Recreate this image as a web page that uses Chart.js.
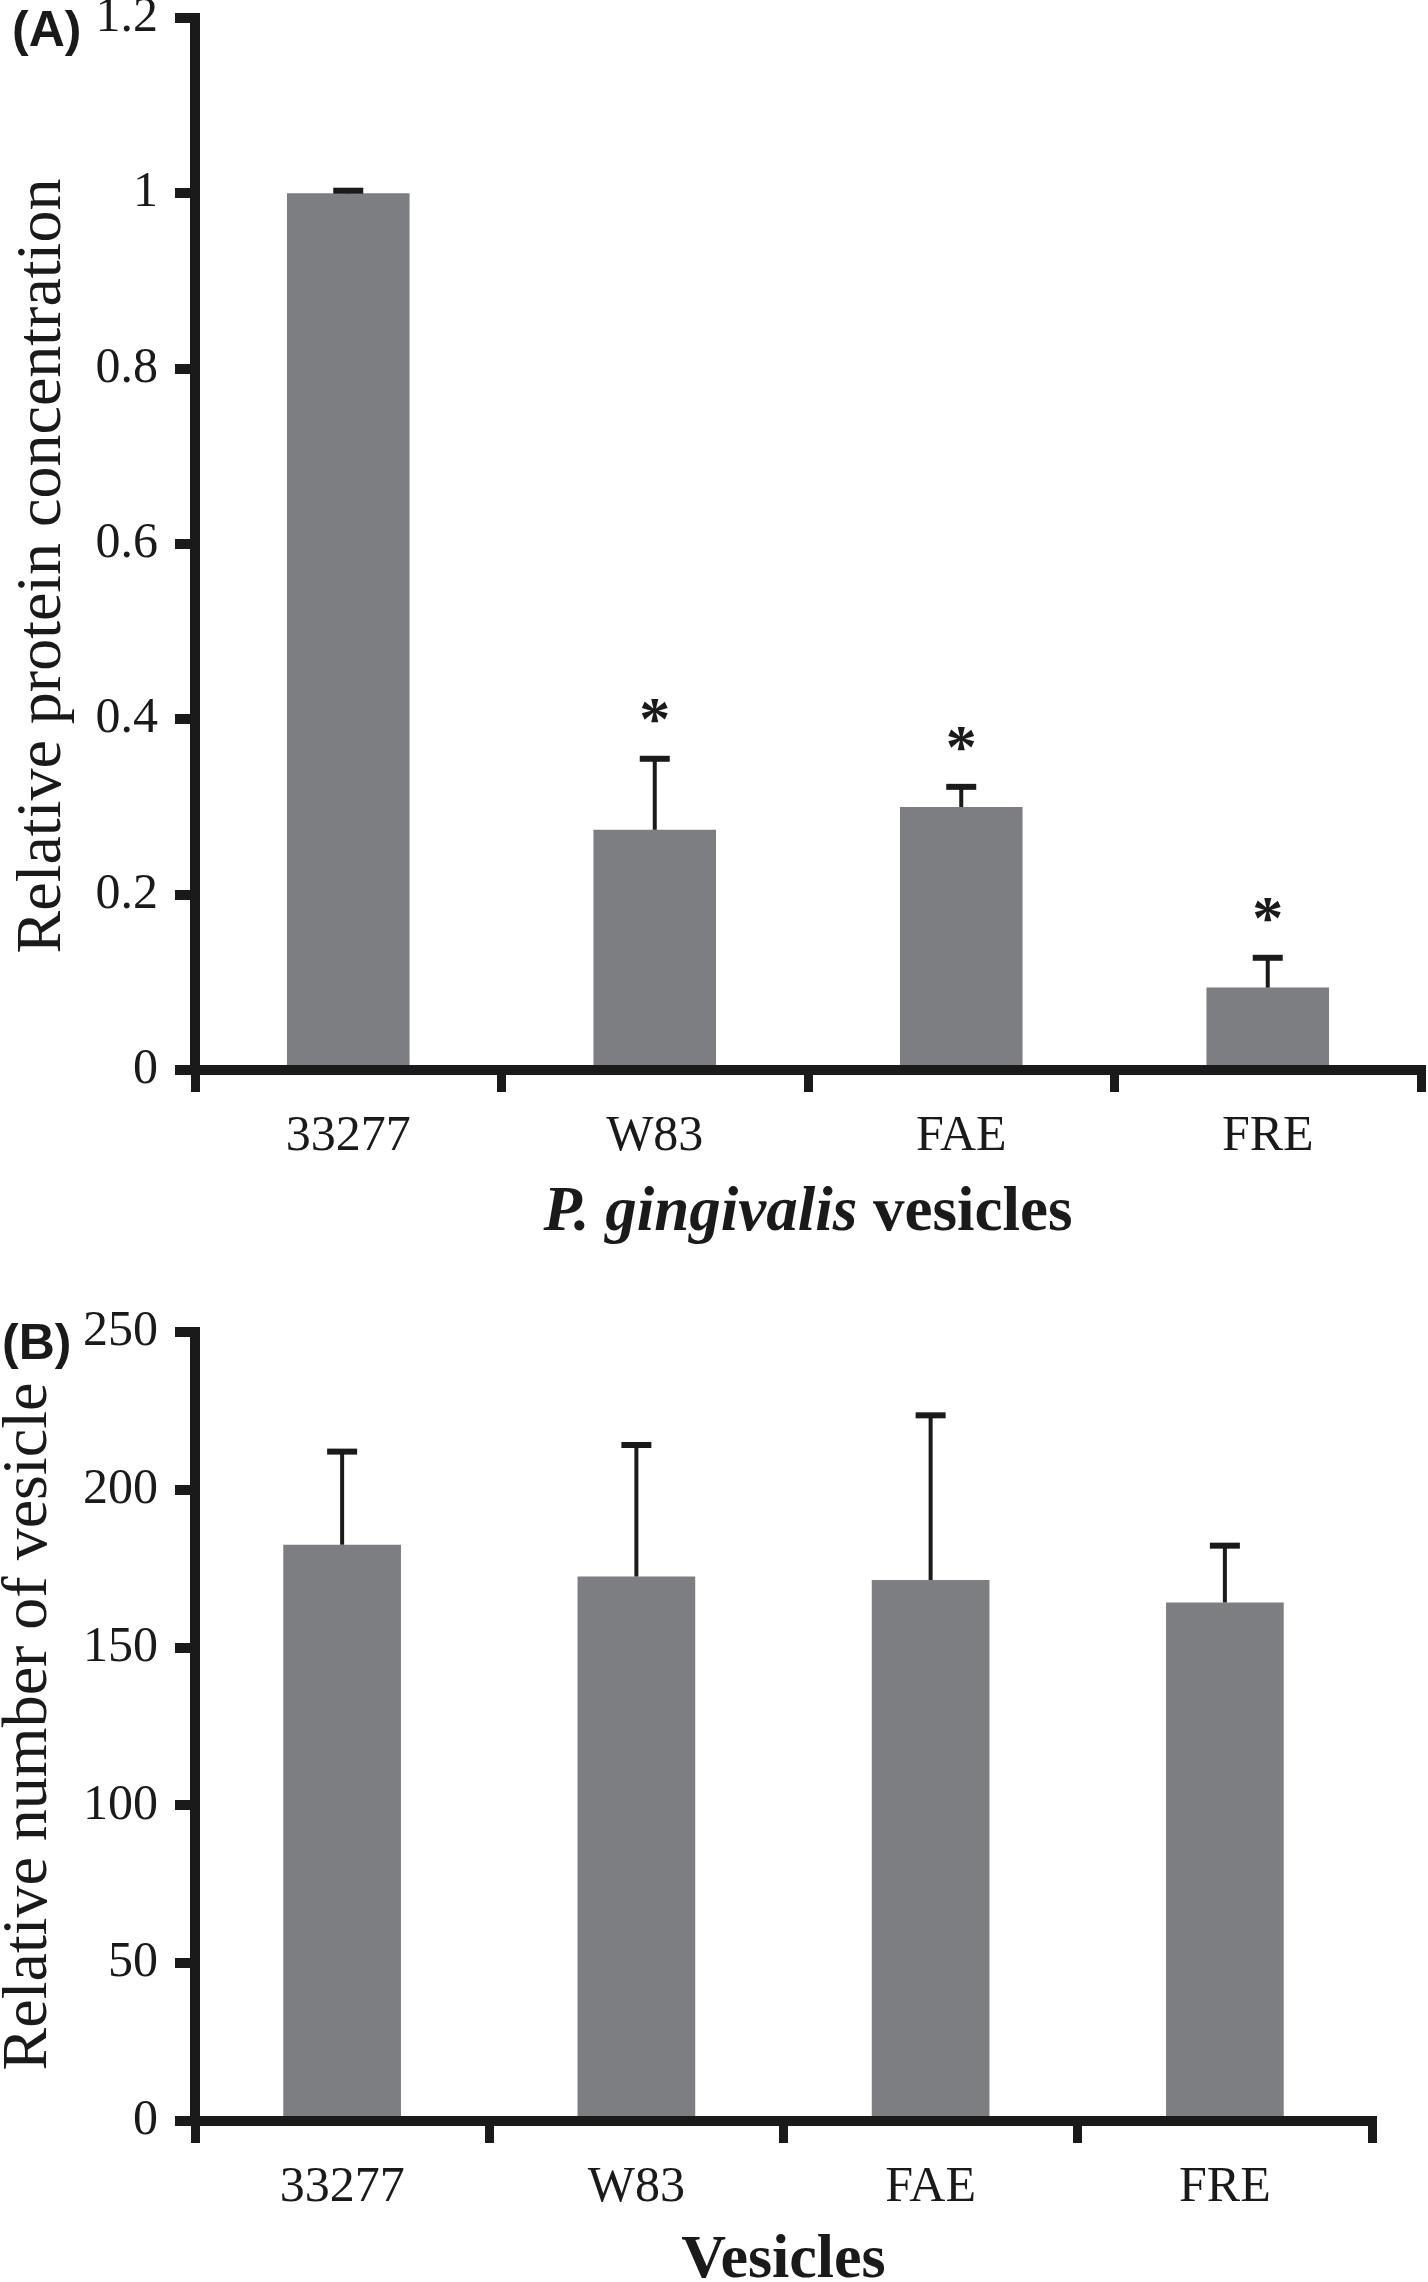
<!DOCTYPE html>
<html>
<head>
<meta charset="utf-8">
<script src="https://cdn.jsdelivr.net/npm/chart.js@4.4.1/dist/chart.umd.min.js"></script>
<style>
  html, body { margin: 0; padding: 0; background: #fff; }
  canvas { position: absolute; left: 0; }
  #chartA { top: 0; }
  #chartB { top: 1290px; }
</style>
</head>
<body>
<canvas id="chartA" width="1428" height="1280"></canvas>
<canvas id="chartB" width="1428" height="992"></canvas>
<script>
// data
const strains = ['33277', 'W83', 'FAE', 'FRE'];

const proteinValues = [1.0, 0.274, 0.300, 0.094];
const proteinErrors = [0.003, 0.081, 0.023, 0.034];
const proteinMarks = ['', '*', '*', '*'];
const proteinTicks = [0, 0.2, 0.4, 0.6, 0.8, 1, 1.2];

const vesicleValues = [182.6, 172.5, 171.4, 164.3];
const vesicleErrors = [29.5, 41.7, 52.2, 18.0];
const vesicleMarks = ['', '', '', ''];
const vesicleTicks = [0, 50, 100, 150, 200, 250];

const ink = '#1a1a1a';
const barGray = '#7d7e82';

Chart.defaults.font.family = "'Liberation Serif', 'Times New Roman', serif";
Chart.defaults.color = ink;

// error bars + significance stars
const errorBars = {
  id: 'errorBars',
  afterDatasetsDraw(chart, args, opts) {
    const ctx = chart.ctx;
    const yScale = chart.scales.y;
    const bars = chart.getDatasetMeta(0).data;
    ctx.save();
    ctx.strokeStyle = ink;
    ctx.fillStyle = ink;
    bars.forEach((bar, i) => {
      const top = yScale.getPixelForValue(opts.values[i] + opts.errors[i]);
      ctx.lineWidth = 4;
      ctx.beginPath();
      ctx.moveTo(bar.x, bar.y);
      ctx.lineTo(bar.x, top);
      ctx.stroke();
      ctx.lineWidth = 6;
      ctx.beginPath();
      ctx.moveTo(bar.x - 15, top);
      ctx.lineTo(bar.x + 15, top);
      ctx.stroke();
      if (opts.marks[i]) {
        ctx.font = "bold 62px 'Liberation Serif'";
        ctx.textAlign = 'center';
        ctx.textBaseline = 'alphabetic';
        ctx.fillText(opts.marks[i], bar.x, top - 52 + 32);
      }
    });
    ctx.restore();
  }
};

// panel letter and axis titles (x title mixes italic and upright)
const axisTitles = {
  id: 'axisTitles',
  afterDraw(chart, args, opts) {
    const ctx = chart.ctx;
    const area = chart.chartArea;
    ctx.save();
    ctx.fillStyle = ink;

    ctx.font = "bold 50px 'Liberation Sans'";
    ctx.textAlign = 'left';
    ctx.textBaseline = 'middle';
    ctx.fillText(opts.letter, opts.letterX, opts.letterY);

    ctx.save();
    ctx.translate(opts.yTitleX, (area.top + area.bottom) / 2 + opts.yTitleShift);
    ctx.rotate(-Math.PI / 2);
    ctx.font = "64px 'Liberation Serif'";
    ctx.textAlign = 'center';
    ctx.textBaseline = 'alphabetic';
    ctx.fillText(opts.yTitle, 0, 0);
    ctx.restore();

    ctx.textAlign = 'left';
    ctx.textBaseline = 'alphabetic';
    let total = 0;
    opts.xTitle.forEach(part => {
      ctx.font = (part.italic ? 'italic ' : '') + "bold " + opts.xTitleSize + "px 'Liberation Serif'";
      part.w = ctx.measureText(part.text).width;
      total += part.w;
    });
    let x = (area.left + area.right) / 2 - total / 2;
    opts.xTitle.forEach(part => {
      ctx.font = (part.italic ? 'italic ' : '') + "bold " + opts.xTitleSize + "px 'Liberation Serif'";
      ctx.fillText(part.text, x, opts.xTitleY);
      x += part.w;
    });
    ctx.restore();
  }
};

function makeChart(id, values, errors, marks, ticks, xHeight, pad, titles) {
  return new Chart(document.getElementById(id), {
    type: 'bar',
    data: {
      labels: strains,
      datasets: [{
        data: values,
        backgroundColor: barGray,
        borderWidth: 0,
        categoryPercentage: 1,
        barPercentage: 0.4
      }]
    },
    options: {
      responsive: false,
      animation: false,
      devicePixelRatio: 1,
      layout: { padding: pad },
      plugins: {
        legend: { display: false },
        tooltip: { enabled: false },
        errorBars: { values: values, errors: errors, marks: marks },
        axisTitles: titles
      },
      scales: {
        x: {
          z: 1,
          border: { display: true, color: ink, width: 10 },
          grid: { drawOnChartArea: false, drawTicks: true, tickLength: 22, lineWidth: 9, color: ink, offset: true },
          ticks: { font: { size: 50 }, color: ink, padding: 15, maxRotation: 0 },
          afterFit(scale) {
            scale.height = xHeight;
            scale.paddingLeft = 0;
            scale.paddingRight = 0;
          }
        },
        y: {
          z: 1,
          min: ticks[0],
          max: ticks[ticks.length - 1],
          border: { display: true, color: ink, width: 10 },
          grid: { drawOnChartArea: false, drawTicks: true, tickLength: 20, lineWidth: 10, color: ink },
          ticks: { font: { size: 50 }, color: ink, padding: 17, callback: v => String(v) },
          afterBuildTicks(scale) {
            scale.ticks = ticks.map(v => ({ value: v }));
          },
          afterFit(scale) {
            scale.width = 195;
            scale.paddingTop = 0;
            scale.paddingBottom = 0;
          }
        }
      }
    },
    plugins: [errorBars, axisTitles]
  });
}

makeChart('chartA', proteinValues, proteinErrors, proteinMarks, proteinTicks, 210,
  { left: 0, right: 7, top: 18, bottom: 0 },
  {
    letter: '(A)', letterX: 12, letterY: 32,
    yTitle: 'Relative protein concentration', yTitleX: 60, yTitleShift: 22,
    xTitle: [{ text: 'P. gingivalis', italic: true }, { text: ' vesicles', italic: false }],
    xTitleSize: 63, xTitleY: 1230
  });

makeChart('chartB', vesicleValues, vesicleErrors, vesicleMarks, vesicleTicks, 161,
  { left: 0, right: 56, top: 42, bottom: 0 },
  {
    letter: '(B)', letterX: 2, letterY: 55,
    yTitle: 'Relative number of vesicle', yTitleX: 46, yTitleShift: 0,
    xTitle: [{ text: 'Vesicles', italic: false }],
    xTitleSize: 62, xTitleY: 987
  });
</script>
</body>
</html>
